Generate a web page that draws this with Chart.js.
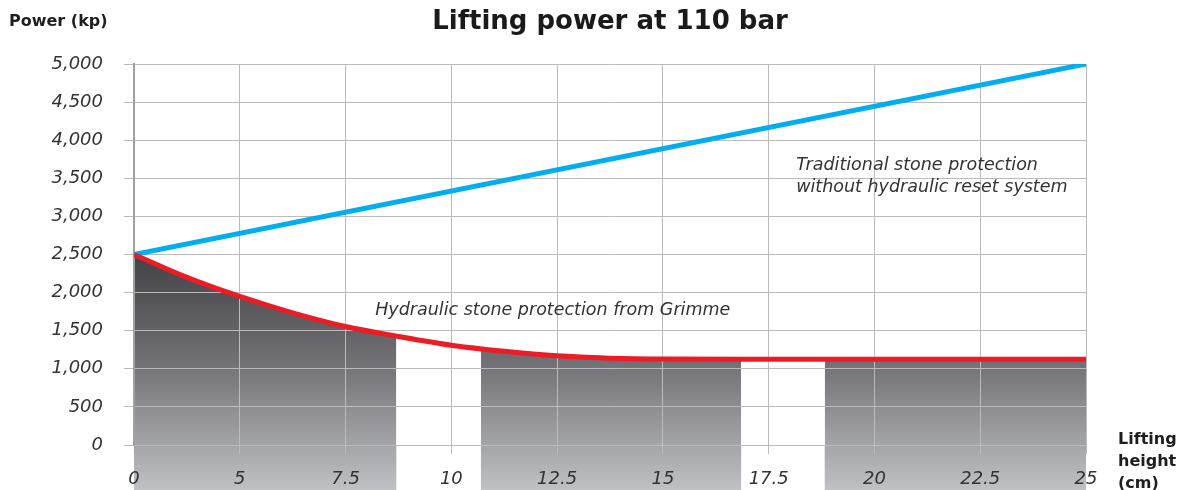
<!DOCTYPE html>
<html>
<head>
<meta charset="utf-8">
<script src="https://cdn.jsdelivr.net/npm/chart.js@4.4.1/dist/chart.umd.min.js"></script>
<style>
  html, body { margin: 0; background: #fff; }
  #wrap { width: 1193px; height: 490px; position: relative; }
</style>
</head>
<body>
<div id="wrap"><canvas id="liftChart"></canvas></div>
<script>
// x axis steps (the printed labels are not evenly spaced in value)
const xLabels = ['0', '5', '7.5', '10', '12.5', '15', '17.5', '20', '22.5', '25'];

// Traditional stone protection (straight line)
const traditionalX = [0, 9];
const traditionalY = [2500, 5000];

// Hydraulic stone protection from Grimme
const hydraulicX = [0, 0.5, 1, 1.5, 2, 2.5, 3, 3.5, 4, 4.5, 5, 6, 7, 8, 9];
const hydraulicY = [2500, 2200, 1950, 1735, 1555, 1425, 1310, 1230, 1170, 1140, 1128, 1125, 1125, 1125, 1125];

// grey shaded blocks under the red curve
const shadeAX = [0, 0.5, 1, 1.5, 2, 2.48];
const shadeAY = [2500, 2200, 1950, 1735, 1555, 1430];
const shadeBX = [3.28, 3.5, 4, 4.5, 5, 5.74];
const shadeBY = [1268, 1230, 1170, 1140, 1128, 1125];
const shadeCX = [6.53, 7, 8, 9];
const shadeCY = [1125, 1125, 1125, 1125];

const pts = (xs, ys) => xs.map((x, i) => ({ x, y: ys[i] }));

const tickFont = { family: '"DejaVu Sans"', size: 18, style: 'italic' };

const shadeGradient = (chart) => {
    const top = chart.scales.y.getPixelForValue(2500);
    const g = chart.ctx.createLinearGradient(0, top, 0, chart.height);
    g.addColorStop(0, '#434346');
    g.addColorStop(0.45, '#707074');
    g.addColorStop(1, '#c0c1c4');
    return g;
};

const shadeFill = (c) => c.chart.chartArea ? shadeGradient(c.chart) : '#777';

// grey blocks keep going below the zero line down to the bottom edge
const shadeBelowAxis = {
    id: 'shadeBelowAxis',
    beforeDraw(chart) {
        const { ctx, chartArea, scales: { x } } = chart;
        ctx.save();
        ctx.fillStyle = shadeGradient(chart);
        chart.data.datasets.forEach(ds => {
            if (!ds.shaded) return;
            const xs = ds.data.map(p => p.x);
            const left = x.getPixelForValue(Math.min(...xs));
            const right = x.getPixelForValue(Math.max(...xs));
            ctx.fillRect(left, chartArea.bottom, right - left, chart.height - chartArea.bottom);
        });
        ctx.restore();
    }
};

// axis captions and curve notes
const chartNotes = {
    id: 'chartNotes',
    afterDraw(chart) {
        const { ctx, scales: { x, y } } = chart;
        ctx.save();
        ctx.textAlign = 'left';
        ctx.textBaseline = 'middle';
        ctx.fillStyle = '#1e1e1e';
        ctx.font = 'bold 16px "DejaVu Sans"';
        ctx.fillText('Power (kp)', 9, 22);
        ['Lifting', 'height', '(cm)'].forEach((t, i) => ctx.fillText(t, 1118, 440 + i * 22));

        ctx.fillStyle = '#333';
        ctx.font = 'italic 17.5px "DejaVu Sans"';
        ctx.fillText('Traditional stone protection', x.getPixelForValue(6.26), y.getPixelForValue(3675));
        ctx.fillText('without hydraulic reset system', x.getPixelForValue(6.26), y.getPixelForValue(3385));
        ctx.fillText('Hydraulic stone protection from Grimme', x.getPixelForValue(2.28), y.getPixelForValue(1760));
        ctx.restore();
    }
};

new Chart(document.getElementById('liftChart'), {
    type: 'line',
    data: {
        datasets: [
            {
                data: pts(hydraulicX, hydraulicY),
                borderColor: '#ed1c24',
                borderWidth: 5,
                pointRadius: 0,
                cubicInterpolationMode: 'monotone',
                fill: false
            },
            {
                data: pts(traditionalX, traditionalY),
                borderColor: '#00aeef',
                borderWidth: 5,
                pointRadius: 0,
                fill: false
            },
            ...[[shadeAX, shadeAY], [shadeBX, shadeBY], [shadeCX, shadeCY]].map(([xs, ys]) => ({
                data: pts(xs, ys),
                shaded: true,
                borderWidth: 0,
                pointRadius: 0,
                cubicInterpolationMode: 'monotone',
                backgroundColor: shadeFill,
                fill: 'start'
            }))
        ]
    },
    options: {
        responsive: true,
        maintainAspectRatio: false,
        animation: false,
        layout: { padding: { left: 0, right: 107, bottom: 0 } },
        plugins: {
            legend: { display: false },
            tooltip: { enabled: false },
            filler: { drawTime: 'beforeDraw' },
            title: {
                display: true,
                text: 'Lifting power at 110 bar',
                fullSize: false,
                color: '#1a1a1a',
                font: { family: '"DejaVu Sans"', size: 26, weight: 'bold' },
                padding: { top: 7, bottom: 25.8 }
            }
        },
        scales: {
            x: {
                type: 'linear',
                min: 0,
                max: 9,
                afterFit: (scale) => { scale.height = 45; },
                ticks: {
                    stepSize: 1,
                    autoSkip: false,
                    maxRotation: 0,
                    padding: 15,
                    color: '#333',
                    font: tickFont,
                    callback: (v) => xLabels[v]
                },
                grid: {
                    color: '#bbbbbb',
                    tickLength: 9,
                    tickColor: (c) => c.index === 0 ? '#a0a0a0' : '#bbbbbb'
                },
                border: { display: false }
            },
            y: {
                min: 0,
                max: 5000,
                afterFit: (scale) => { scale.width = 134; },
                ticks: {
                    stepSize: 500,
                    padding: 21,
                    color: '#333',
                    font: tickFont
                },
                grid: { color: '#bbbbbb', tickLength: 10 },
                border: { color: '#a0a0a0', width: 2 }
            }
        }
    },
    plugins: [shadeBelowAxis, chartNotes]
});
</script>
</body>
</html>
